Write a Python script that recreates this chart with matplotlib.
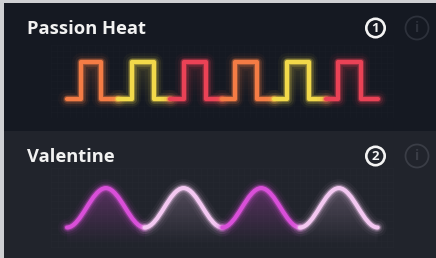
import numpy as np
import matplotlib
matplotlib.use("Agg")
import matplotlib.pyplot as plt
from matplotlib.path import Path
from matplotlib.patches import PathPatch, Circle, Rectangle
import matplotlib.colors as mcolors

plt.rcParams["font.family"] = ["Open Sans", "DejaVu Sans"]

W, H = 436, 258

# panel titles and badge numbers
titles = ["Passion Heat", "Valentine"]
badges = ["1", "2"]

# square wave: one pulse per segment (rise / fall positions, colour)
sq_start = [0, 1, 2, 3, 4, 5]
sq_rise = [0.27, 1.26, 2.26, 3.25, 4.25, 5.24]
sq_fall = [0.67, 1.69, 2.68, 3.67, 4.68, 5.68]
sq_end = [1, 2, 3, 4, 5, 6]
sq_low, sq_high = 0.0, 1.0
sq_colors = ["#f47c45", "#f2d94a", "#ea4256", "#f47c45", "#f2d94a", "#ea4256"]

# smooth wave: trough / peak positions and levels
sn_x = [0, 0.5, 1, 1.5, 2, 2.5, 3, 3.5, 4]
sn_y = [0, 1, 0, 1, 0, 1, 0, 1, 0]
sn_colors = ["#d94fd9", "#f3c8f1", "#d94fd9", "#f3c8f1"]


def px_axes(fig, x0, y0, x1, y1):
    return fig.add_axes([x0 / W, 1 - y1 / H, (x1 - x0) / W, (y1 - y0) / H])


GLOW = [(13, 0.04), (9.5, 0.08), (6.5, 0.16), (4.6, 0.35)]


def glow_line(ax, x, y, color):
    for lw, a in GLOW:
        ax.plot(x, y, color=color, lw=lw, alpha=a, solid_capstyle="round",
                solid_joinstyle="round")
    ax.plot(x, y, color=color, lw=3.0, solid_capstyle="round",
            solid_joinstyle="round")


def glow_path(ax, path, color):
    for lw, a in GLOW:
        ax.add_patch(PathPatch(path, fc="none", ec=color, lw=lw, alpha=a,
                               capstyle="round", joinstyle="round"))
    ax.add_patch(PathPatch(path, fc="none", ec=color, lw=3.0,
                           capstyle="round", joinstyle="round"))


def gradient_fill(ax, patch, color, x0, x1, ytop, ybot, amax):
    rgb = mcolors.to_rgb(color)
    img = np.zeros((64, 2, 4))
    img[..., :3] = rgb
    img[..., 3] = np.linspace(amax, 0, 64)[:, None]
    im = ax.imshow(img, extent=[x0, x1, ybot, ytop], aspect="auto",
                   origin="upper", zorder=1, interpolation="bilinear")
    ax.add_patch(patch)
    im.set_clip_path(patch)


def faint_grid(ax, x0, x1, y0, y1, nx, ny, color):
    for gx in np.linspace(x0, x1, nx):
        ax.axvline(gx, color=color, lw=0.4, alpha=0.6, zorder=0)
    for gy in np.linspace(y0, y1, ny):
        ax.axhline(gy, color=color, lw=0.4, alpha=0.6, zorder=0)


fig = plt.figure(figsize=(W / 100, H / 100), dpi=100)
fig.patch.set_facecolor("#cfd0d3")

bg = fig.add_axes([0, 0, 1, 1])
bg.set_xlim(0, W)
bg.set_ylim(H, 0)
bg.axis("off")
bg.add_patch(Rectangle((4, 3), W, 128, fc="#151922", ec="none"))
bg.add_patch(Rectangle((4, 131), W, H, fc="#21242c", ec="none"))

for i, (t, b) in enumerate(zip(titles, badges)):
    yc = 28 + i * 128
    bg.text(27, yc + 0.5, t, color="#f2f2f2", fontsize=13.2, fontweight="bold",
            va="center", ha="left")
    bg.add_patch(Circle((375.5, yc), 9.2, fc="none", ec="#f4f4f4", lw=1.9))
    bg.text(375.5, yc + 0.5, b, color="#f4f4f4", fontsize=9.5,
            fontweight="bold", ha="center", va="center")
    icol = "#2d313b" if i == 0 else "#3a3d46"
    bg.add_patch(Circle((417, yc), 11.5, fc="none", ec=icol, lw=1.3))
    bg.text(417, yc + 0.5, "i", color=icol, fontsize=10, fontweight="bold",
            ha="center", va="center")

# square wave
ax1 = px_axes(fig, 51, 45, 394, 118)
ax1.set_xlim(-0.30, 6.31)
ax1.set_ylim(-0.51, 1.46)
ax1.axis("off")
faint_grid(ax1, -0.3, 6.3, -0.5, 1.45, 56, 13, "#1c202a")
for s, r, f, e, c in zip(sq_start, sq_rise, sq_fall, sq_end, sq_colors):
    xs = [s, r, r, f, f, e]
    ys = [sq_low, sq_low, sq_high, sq_high, sq_low, sq_low]
    poly = PathPatch(Path([(r, sq_low), (r, sq_high), (f, sq_high), (f, sq_low)]),
                     fc="none", ec="none")
    gradient_fill(ax1, poly, c, r, f, sq_high, sq_low, 0.16)
    glow_line(ax1, xs, ys, c)

# smooth wave
ax2 = px_axes(fig, 51, 168, 394, 248)
ax2.set_xlim(-0.206, 4.21)
ax2.set_ylim(-0.52, 1.51)
ax2.axis("off")
faint_grid(ax2, -0.2, 4.2, -0.5, 1.5, 56, 13, "#282b34")
k = 0.3634
for p in range(4):
    c = sn_colors[p]
    verts = [(sn_x[2 * p], sn_y[2 * p])]
    codes = [Path.MOVETO]
    for j in range(2 * p, 2 * p + 2):
        xa, ya = sn_x[j], sn_y[j]
        xb, yb = sn_x[j + 1], sn_y[j + 1]
        w = xb - xa
        verts += [(xa + k * w, ya), (xb - k * w, yb), (xb, yb)]
        codes += [Path.CURVE4] * 3
    curve = Path(verts, codes)
    base = -0.45
    fverts = verts + [(sn_x[2 * p + 2], base), (sn_x[2 * p], base), verts[0]]
    fcodes = codes + [Path.LINETO, Path.LINETO, Path.CLOSEPOLY]
    fpatch = PathPatch(Path(fverts, fcodes), fc="none", ec="none")
    amax = 0.30 if c == "#d94fd9" else 0.24
    gradient_fill(ax2, fpatch, c, sn_x[2 * p], sn_x[2 * p + 2], 1.0, base, amax)
    glow_path(ax2, curve, c)

fig.savefig("out.png", dpi=100, facecolor=fig.get_facecolor())
